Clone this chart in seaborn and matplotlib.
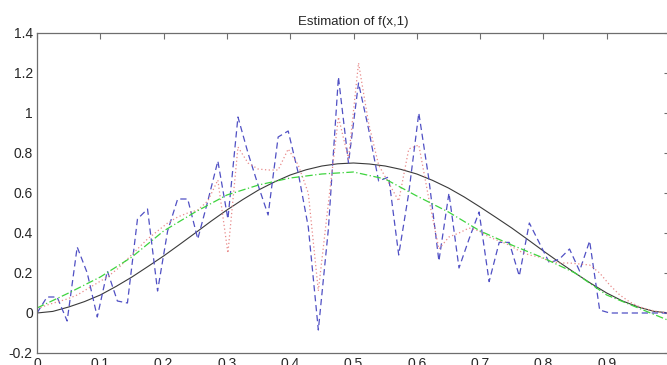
import numpy as np
import matplotlib
matplotlib.use("Agg")
import matplotlib.pyplot as plt
import seaborn as sns

# valeurs
x_fine = np.linspace(0, 1, 64)
blue_est = [0, 0.08, 0.08, -0.04, 0.33, 0.20, -0.02, 0.21, 0.06, 0.05,
            0.47, 0.52, 0.11, 0.41, 0.57, 0.57, 0.37, 0.56, 0.76, 0.47,
            0.98, 0.80, 0.64, 0.49, 0.88, 0.91, 0.70, 0.43, -0.085, 0.42,
            1.18, 0.75, 1.15, 0.92, 0.66, 0.68, 0.29, 0.60, 1.0, 0.67,
            0.26, 0.60, 0.225, 0.37, 0.505, 0.157, 0.353, 0.353, 0.185, 0.45,
            0.35, 0.25, 0.27, 0.32, 0.21, 0.36, 0.015, 0, 0, 0,
            0, 0, 0, 0]
pink_est = [0.02, 0.04, 0.055, 0.07, 0.09, 0.12, 0.15, 0.18, 0.22, 0.27,
            0.32, 0.37, 0.41, 0.45, 0.48, 0.50, 0.515, 0.56, 0.665, 0.30,
            0.83, 0.75, 0.72, 0.715, 0.715, 0.82, 0.74, 0.60, 0.11, 0.55,
            0.98, 0.77, 1.25, 0.95, 0.74, 0.65, 0.56, 0.82, 0.84, 0.57,
            0.32, 0.38, 0.40, 0.425, 0.41, 0.38, 0.36, 0.34, 0.31, 0.29,
            0.28, 0.26, 0.25, 0.25, 0.245, 0.24, 0.20, 0.14, 0.09, 0.055,
            0.03, 0.015, 0.005, 0.0]

# vraie fonction (courbe noire), pas de 0.025
x_true = np.linspace(0, 1, 41)
true_f = [0, 0.008, 0.03, 0.057, 0.09, 0.133, 0.18, 0.232, 0.285, 0.342,
          0.40, 0.459, 0.515, 0.567, 0.615, 0.655, 0.69, 0.716, 0.735, 0.746,
          0.75, 0.745, 0.735, 0.718, 0.695, 0.663, 0.625, 0.58, 0.53, 0.478,
          0.425, 0.368, 0.31, 0.254, 0.20, 0.148, 0.10, 0.06, 0.03, 0.008, 0.0]

x_coarse = np.linspace(0, 1, 21)
green_est = [0.025, 0.10, 0.18, 0.28, 0.41, 0.505, 0.59, 0.64, 0.675, 0.695, 0.705,
             0.67, 0.585, 0.505, 0.41, 0.34, 0.275, 0.20, 0.09, 0.025, -0.04]

xticks = [0, 0.1, 0.2, 0.3, 0.4, 0.5, 0.6, 0.7, 0.8, 0.9, 1]
xtick_labels = ["0", "0.1", "0.2", "0.3", "0.4", "0.5", "0.6", "0.7", "0.8", "0.9", "1"]
yticks = [-0.2, 0, 0.2, 0.4, 0.6, 0.8, 1, 1.2, 1.4]
ytick_labels = ["-0.2", "0", "0.2", "0.4", "0.6", "0.8", "1", "1.2", "1.4"]

sns.set_style("white")
plt.rcParams['font.family'] = ['Liberation Sans', 'DejaVu Sans']

fig = plt.figure(figsize=(6.67, 3.65), dpi=100)
# axe qui déborde à droite comme sur l'image (coupée)
ax = fig.add_axes([37/667, 12/365, 633/667, 320/365])

sns.lineplot(x=x_true, y=true_f, ax=ax, color="#3a3a3a", linewidth=0.8)
sns.lineplot(x=x_fine, y=blue_est, ax=ax, color="#5050c4", linewidth=0.9,
             linestyle=(0, (5, 3)))
sns.lineplot(x=x_fine, y=pink_est, ax=ax, color="#e88a8a", linewidth=0.9,
             linestyle=(0, (1, 2)))
sns.lineplot(x=x_coarse, y=green_est, ax=ax, color="#3ed43e", linewidth=0.9,
             linestyle=(0, (6, 2, 1, 2)))

ax.set_xlim(0, 1)
ax.set_ylim(-0.2, 1.4)
ax.set_xticks(xticks)
ax.set_xticklabels(xtick_labels)
ax.set_yticks(yticks)
ax.set_yticklabels(ytick_labels)
ax.tick_params(direction='in', top=True, right=True, length=4.3, width=0.8,
               color="#6e6e6e", labelsize=10, pad=3)
for s in ax.spines.values():
    s.set_color("#6e6e6e")
    s.set_linewidth(0.9)
ax.set_title("Estimation of f(x,1)", fontsize=9.5, pad=6)

fig.savefig("out.png", dpi=100)
